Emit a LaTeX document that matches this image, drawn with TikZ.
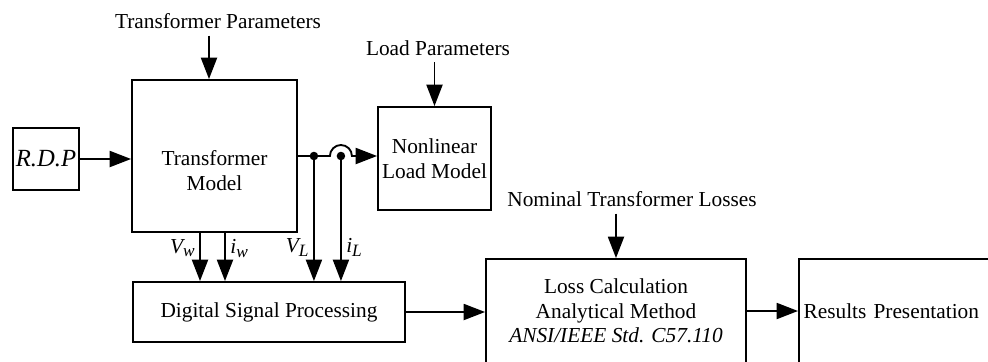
\documentclass[tikz,border=0pt]{standalone}
\usepackage{fontspec}
\setmainfont{Liberation Serif}
\usetikzlibrary{arrows.meta,calc}

\tikzset{
  block/.style={draw, line width=1.4pt, align=center, inner sep=2pt},
  sig/.style={line width=1.4pt, -{Triangle[length=16pt,width=12pt]}},
  plain/.style={inner sep=2pt, align=center},
}
\newcommand{\lbl}[2]{\textit{#1\raisebox{-0.35ex}{\fontsize{13}{13}\selectfont #2}}}

\begin{document}
\begin{tikzpicture}[x=0.75pt, y=-0.75pt, font=\fontsize{16}{18.5}\selectfont]
  \useasboundingbox (0,0) rectangle (988,361);
  \clip (0,0) rectangle (988,361);
  % Blocks
  \node[block, minimum width=49.5pt, minimum height=46.5pt,
        font=\fontsize{18.5}{20}\selectfont\itshape] (rdp) at (46,159) {R.D.P};
  \node[block, minimum width=123.75pt, minimum height=114pt, text height=52pt] (tm) at (214.5,156) {Transformer\\Model};
  \node[block, minimum width=84.75pt, minimum height=77.25pt] (nl) at (434.5,158.5) {Nonlinear\\Load Model};
  \node[block, minimum width=204pt, minimum height=45pt] (dsp) at (269,312) {Digital Signal Processing};
  \node[block, minimum width=195pt, minimum height=78pt] (loss) at (616,311)
        {Loss Calculation\\Analytical Method\\\textit{ANSI/IEEE Std. C57.110}};
  \node[block, minimum height=78pt, text width=190pt, align=left, inner xsep=3.5pt,
        anchor=west] (res) at (798,311) {Results Presentation};
  % Parameter inputs
  \node[plain] (tp) at (218,21) {Transformer Parameters};
  \node[plain] (lp) at (438,48) {Load Parameters};
  \node[plain] (ntl) at (632,199) {Nominal Transformer Losses};
  \coordinate (tpin) at ($(tm.north)+(-5.5,0)$);
  \draw[sig, shorten <=3pt] (tpin |- tp.south) -- (tpin);
  \draw[sig, shorten <=3pt] (lp.south -| nl.north) -- (nl.north);
  \draw[sig, shorten <=3pt] (ntl.south -| loss.north) -- (loss.north);
  % Main signal path
  \draw[sig] (rdp.east) -- (rdp.east -| tm.west);
  \coordinate (jv) at ($(tm.east)+(16,0)$);
  \coordinate (ji) at ($(tm.east)+(43,0)$);
  \draw[sig] (tm.east) -- ($(ji)+(-11,0)$) arc[start angle=180, end angle=0, radius=8.25pt]
        -- (ji -| nl.west);
  \fill (jv) circle[radius=3.2pt];
  \fill (ji) circle[radius=3.2pt];
  % Measured voltages and currents
  \coordinate (vwout) at ($(tm.south)+(-14.5,0)$);
  \coordinate (iwout) at ($(tm.south)+(10.5,0)$);
  \draw[sig] (vwout) -- (vwout |- dsp.north) node[pos=0.32, left] {\lbl{V}{w}};
  \draw[sig] (iwout) -- (iwout |- dsp.north) node[pos=0.32, right] {\lbl{i}{w}};
  \draw[sig] (jv) -- (jv |- dsp.north) node[pos=0.73, left] {\lbl{V}{L}};
  \draw[sig] (ji) -- (ji |- dsp.north) node[pos=0.73, right] {\lbl{i}{L}};
  % Loss evaluation
  \draw[sig] (dsp.east) -- (dsp.east -| loss.west);
  \draw[sig] (loss.east) -- (loss.east -| res.west);
\end{tikzpicture}
\end{document}
